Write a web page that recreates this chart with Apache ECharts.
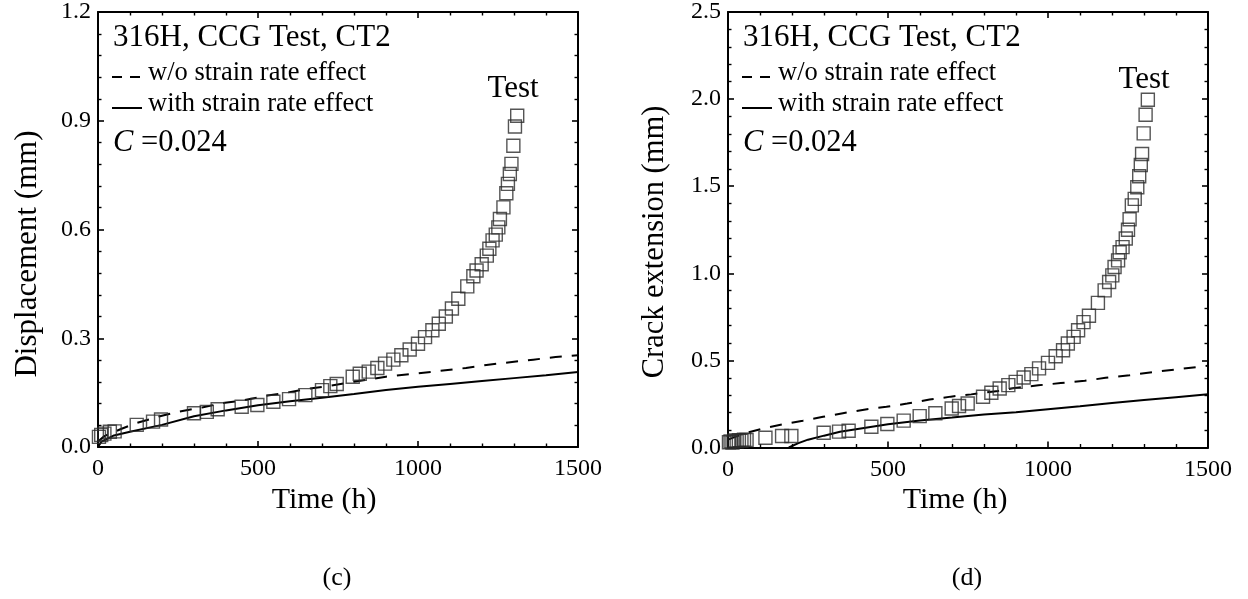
<!DOCTYPE html>
<html>
<head>
<meta charset="utf-8">
<script src="https://cdn.jsdelivr.net/npm/echarts@6/dist/echarts.min.js"></script>
<style>
  html, body { margin: 0; padding: 0; background: #fff; }
  #chart { width: 1248px; height: 599px; }
</style>
</head>
<body>
<div id="chart"></div>
<script>
// (c) Load-line displacement, 316H CCG test CT2
const testTimeC = [3, 10, 20, 37, 52, 121, 172, 197, 300, 340, 374, 449, 498, 548, 597, 648, 700, 726, 746,
  796, 818, 846, 873, 897, 923, 948, 974, 1000, 1022, 1045, 1065, 1087, 1106, 1126, 1154,
  1173, 1183, 1199, 1215, 1223, 1233, 1243, 1251, 1256, 1267, 1276, 1281, 1287, 1292, 1298, 1303, 1310];
const testDispC = [0.028, 0.033, 0.037, 0.042, 0.043, 0.061, 0.070, 0.076, 0.093, 0.097, 0.104, 0.111, 0.116, 0.125, 0.132, 0.143, 0.157, 0.168, 0.174,
  0.194, 0.202, 0.208, 0.218, 0.230, 0.241, 0.253, 0.269, 0.285, 0.303, 0.322, 0.340, 0.360, 0.382, 0.409, 0.443,
  0.471, 0.487, 0.504, 0.528, 0.547, 0.570, 0.586, 0.606, 0.629, 0.661, 0.700, 0.726, 0.753, 0.781, 0.831, 0.884, 0.914];

const noRateTimeC = [0, 20, 70, 120, 190, 250, 325, 390, 455, 530, 590, 660, 720, 800, 900, 1000, 1070, 1150, 1220, 1300, 1360, 1430, 1500];
const noRateDispC = [0.015, 0.030, 0.049, 0.066, 0.084, 0.097, 0.109, 0.121, 0.129, 0.142, 0.150, 0.161, 0.168, 0.180, 0.194, 0.203, 0.210, 0.218, 0.227, 0.235, 0.241, 0.248, 0.253];

const rateTimeC = [0, 11, 50, 100, 200, 300, 400, 500, 600, 700, 800, 900, 1000, 1100, 1200, 1300, 1400, 1500];
const rateDispC = [0, 0.015, 0.032, 0.042, 0.061, 0.085, 0.101, 0.115, 0.126, 0.136, 0.146, 0.157, 0.166, 0.174, 0.182, 0.190, 0.198, 0.207];

// (d) Crack extension, 316H CCG test CT2
const testTimeD = [3, 8, 14, 20, 27, 34, 42, 50, 58, 117, 169, 198, 299, 347, 377, 448, 498, 549, 599, 648, 699, 722, 749,
  797, 823, 849, 876, 899, 924, 948, 972, 1000, 1024, 1047, 1062, 1080, 1094, 1111, 1128,
  1156, 1177, 1191, 1201, 1208, 1219, 1224, 1233, 1243, 1250, 1255, 1262, 1271, 1279, 1285, 1290, 1294, 1299, 1305, 1312];
const testCrackD = [0.030, 0.035, 0.028, 0.040, 0.035, 0.042, 0.038, 0.045, 0.043, 0.056, 0.066, 0.066, 0.085, 0.091, 0.096, 0.119, 0.135, 0.154, 0.180, 0.197, 0.224, 0.238, 0.253,
  0.291, 0.314, 0.339, 0.358, 0.377, 0.402, 0.421, 0.454, 0.486, 0.524, 0.558, 0.597, 0.635, 0.673, 0.720, 0.756,
  0.830, 0.902, 0.950, 0.988, 1.036, 1.074, 1.121, 1.150, 1.200, 1.250, 1.310, 1.390, 1.427, 1.494, 1.557, 1.622, 1.685, 1.803, 1.910, 1.996];

const noRateTimeD = [0, 50, 111, 169, 234, 297, 359, 425, 495, 560, 630, 696, 760, 845, 890, 970, 1040, 1115, 1180, 1255, 1330, 1400, 1465, 1500];
const noRateCrackD = [0.045, 0.080, 0.110, 0.133, 0.154, 0.176, 0.197, 0.217, 0.234, 0.252, 0.275, 0.292, 0.305, 0.325, 0.340, 0.357, 0.370, 0.383, 0.400, 0.415, 0.433, 0.448, 0.462, 0.470];

const rateTimeD = [190, 220, 250, 300, 350, 400, 500, 600, 700, 800, 900, 1000, 1100, 1200, 1300, 1400, 1500];
const rateCrackD = [0, 0.025, 0.045, 0.068, 0.090, 0.105, 0.133, 0.155, 0.172, 0.190, 0.203, 0.220, 0.237, 0.255, 0.272, 0.289, 0.306];

const xTicks = { min: 0, max: 1500, interval: 500 };
const yTicksC = { min: 0, max: 1.2, interval: 0.3 };
const yTicksD = { min: 0, max: 2.5, interval: 0.5 };

const FONT = '"Liberation Serif", "Times New Roman", serif';
const INK = '#000';

function pairs(xs, ys) { return xs.map((x, i) => [x, ys[i]]); }

function axis(dim, gridIndex, range, position, showLabel, digits) {
  return {
    type: 'value', gridIndex, position,
    min: range.min, max: range.max, interval: range.interval,
    axisLine: { show: true, onZero: false, lineStyle: { color: INK, width: 2 } },
    axisTick: { show: true, inside: true, length: 6, lineStyle: { color: INK, width: 1.6 } },
    minorTick: { show: true, splitNumber: 5, length: 3.5, lineStyle: { color: INK, width: 1.4 } },
    splitLine: { show: false },
    axisLabel: {
      show: showLabel, color: INK, fontFamily: FONT, fontSize: 24,
      margin: dim === 'x' ? 10 : 7,
      formatter: v => digits ? v.toFixed(digits) : String(v)
    }
  };
}

function curve(gridIndex, xs, ys, dashed) {
  return {
    type: 'line', xAxisIndex: gridIndex * 2, yAxisIndex: gridIndex * 2,
    data: pairs(xs, ys), showSymbol: false, smooth: false, silent: true,
    lineStyle: { color: INK, width: 2, type: dashed ? [12, 10] : 'solid' },
    z: 3
  };
}

function squares(gridIndex, xs, ys) {
  return {
    type: 'scatter', xAxisIndex: gridIndex * 2, yAxisIndex: gridIndex * 2,
    data: pairs(xs, ys), symbol: 'rect', symbolSize: 13, clip: false, silent: true,
    itemStyle: { color: 'rgba(0,0,0,0)', borderColor: '#2a2a2a', borderWidth: 1.4 },
    z: 4
  };
}

function text(x, y, str, size, align, extra) {
  return Object.assign({
    type: 'text', x, y, silent: true,
    style: { text: str, fill: INK, font: size + 'px ' + FONT, align: align || 'left', verticalAlign: 'middle' }
  }, extra || {});
}

function line(x1, y1, x2, y2) {
  return { type: 'line', silent: true, shape: { x1, y1, x2, y2 }, style: { stroke: INK, lineWidth: 2 } };
}

function panelNotes(dx, testX, testY) {
  return [
    text(113 + dx, 38, '316H, CCG Test, CT2', 31),
    line(112 + dx, 77, 122 + dx, 77),
    line(130 + dx, 77, 140 + dx, 77),
    text(148 + dx, 73, 'w/o strain rate effect', 26.5),
    line(112 + dx, 108, 142 + dx, 108),
    text(148 + dx, 104, 'with strain rate effect', 26.5),
    {
      type: 'text', x: 113 + dx, y: 143, silent: true,
      style: {
        text: '{i|C} =0.024', fill: INK, font: '30.5px ' + FONT, verticalAlign: 'middle',
        rich: { i: { fontStyle: 'italic', fontFamily: FONT, fontSize: 30.5, fill: INK } }
      }
    },
    text(testX, testY, 'Test', 31, 'center')
  ];
}

const option = {
  animation: false,
  backgroundColor: '#fff',
  grid: [
    { left: 98, top: 11, width: 480, height: 436 },
    { left: 728, top: 11, width: 480, height: 436.5 }
  ],
  xAxis: [
    axis('x', 0, xTicks, 'bottom', true, 0),
    axis('x', 0, xTicks, 'top', false, 0),
    axis('x', 1, xTicks, 'bottom', true, 0),
    axis('x', 1, xTicks, 'top', false, 0)
  ],
  yAxis: [
    axis('y', 0, yTicksC, 'left', true, 1),
    axis('y', 0, yTicksC, 'right', false, 1),
    axis('y', 1, yTicksD, 'left', true, 1),
    axis('y', 1, yTicksD, 'right', false, 1)
  ],
  series: [
    curve(0, noRateTimeC, noRateDispC, true),
    curve(0, rateTimeC, rateDispC, false),
    squares(0, testTimeC, testDispC),
    curve(1, noRateTimeD, noRateCrackD, true),
    curve(1, rateTimeD, rateCrackD, false),
    squares(1, testTimeD, testCrackD)
  ],
  graphic: [
    ...panelNotes(0, 513, 89),
    ...panelNotes(630, 1144, 80),
    text(324, 500, 'Time (h)', 30, 'center'),
    text(955, 500, 'Time (h)', 30, 'center'),
    text(28, 254, 'Displacement (mm)', 31, 'center', { rotation: Math.PI / 2 }),
    text(655, 242, 'Crack extension (mm)', 30.5, 'center', { rotation: Math.PI / 2 }),
    text(337, 578, '(c)', 26, 'center'),
    text(967, 578, '(d)', 26, 'center')
  ]
};

const chart = echarts.init(document.getElementById('chart'), null, { renderer: 'canvas' });
chart.setOption(option);
</script>
</body>
</html>
